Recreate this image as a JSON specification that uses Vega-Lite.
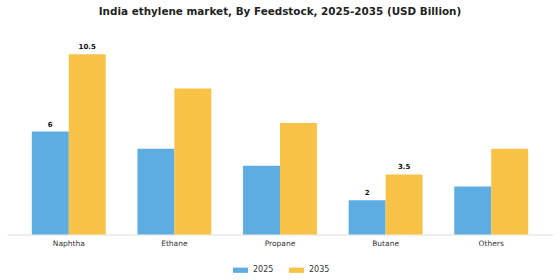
{
  "$schema": "https://vega.github.io/schema/vega-lite/v6.json",
  "autosize": "none",
  "width": 546,
  "height": 206,
  "padding": {"left": 7, "top": 28.5, "right": 7, "bottom": 45.5},
  "background": "white",
  "config": {"view": {"stroke": null}, "font": "DejaVu Sans"},
  "title": {
    "text": "India ethylene market, By Feedstock, 2025-2035 (USD Billion)",
    "fontSize": 10.4,
    "fontWeight": "bold",
    "color": "#222222",
    "anchor": "middle",
    "offset": 11
  },
  "data": {
    "values": [
      {"feedstock": "Naphtha", "year": "2025", "value": 6},
      {"feedstock": "Naphtha", "year": "2035", "value": 10.5},
      {"feedstock": "Ethane", "year": "2025", "value": 5},
      {"feedstock": "Ethane", "year": "2035", "value": 8.5},
      {"feedstock": "Propane", "year": "2025", "value": 4},
      {"feedstock": "Propane", "year": "2035", "value": 6.5},
      {"feedstock": "Butane", "year": "2025", "value": 2},
      {"feedstock": "Butane", "year": "2035", "value": 3.5},
      {"feedstock": "Others", "year": "2025", "value": 2.8},
      {"feedstock": "Others", "year": "2035", "value": 5}
    ]
  },
  "encoding": {
    "x": {
      "field": "feedstock",
      "type": "nominal",
      "sort": ["Naphtha", "Ethane", "Propane", "Butane", "Others"],
      "scale": {"paddingInner": 0.3, "paddingOuter": 0.235},
      "axis": {
        "title": null,
        "labelAngle": 0,
        "labelFontSize": 7.5,
        "labelColor": "#333333",
        "domainColor": "#dddddd",
        "ticks": false,
        "labelPadding": 5
      }
    },
    "xOffset": {"field": "year", "type": "nominal", "scale": {"paddingInner": 0, "paddingOuter": 0}},
    "y": {
      "field": "value",
      "type": "quantitative",
      "scale": {"domain": [0, 12]},
      "axis": null
    }
  },
  "layer": [
    {
      "mark": {"type": "bar"},
      "encoding": {
        "color": {
          "field": "year",
          "type": "nominal",
          "scale": {"domain": ["2025", "2035"], "range": ["#5DADE2", "#F8C246"]},
          "legend": {
            "title": null,
            "orient": "none",
            "legendX": 226,
            "legendY": 234,
            "direction": "horizontal",
            "symbolType": "M-1,-0.35L1,-0.35L1,0.35L-1,0.35Z",
            "symbolSize": 225,
            "symbolStrokeWidth": 0,
            "labelFontSize": 8,
            "labelColor": "#333333",
            "labelOffset": 5,
            "columnPadding": 15
          }
        }
      }
    },
    {
      "transform": [{"filter": "datum.feedstock === 'Naphtha' || datum.feedstock === 'Butane'"}],
      "mark": {"type": "text", "baseline": "bottom", "dy": -4, "fontSize": 7, "fontWeight": "bold", "color": "#111111"},
      "encoding": {
        "text": {"field": "value", "type": "quantitative"}
      }
    }
  ]
}
